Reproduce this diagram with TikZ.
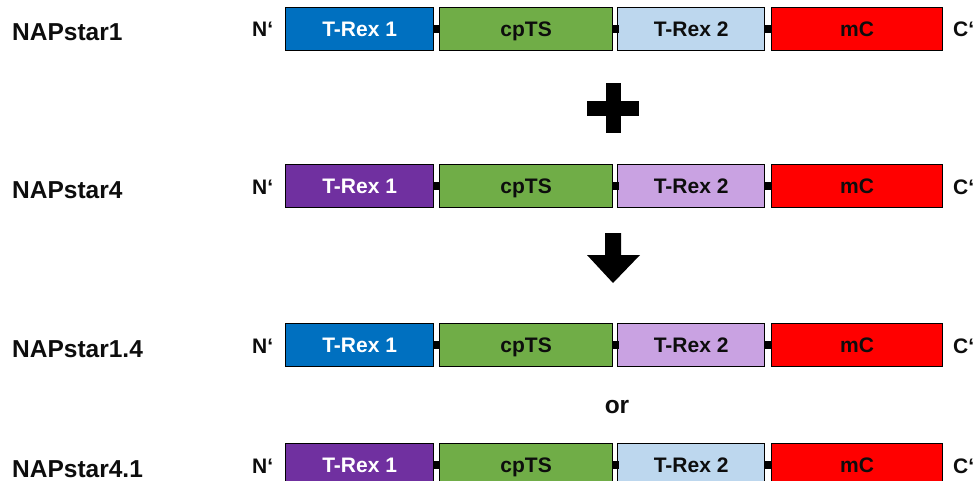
\documentclass[tikz,border=0pt]{standalone}
\usepackage{fontspec}
\setmainfont{Liberation Sans}
\usetikzlibrary{calc}
\definecolor{tblue}{HTML}{0070C0}
\definecolor{tpurple}{HTML}{7030A0}
\definecolor{cpgreen}{HTML}{70AD47}
\definecolor{lblue}{HTML}{BDD7EE}
\definecolor{lpurple}{HTML}{C9A2E2}
\definecolor{mcred}{HTML}{FF0000}
\definecolor{txtdark}{HTML}{0D0D0D}
\newcommand\domainrow[5]{%
  % #1 prefix, #2 top y, #3 label, #4 trex1 colour, #5 trex2 colour
  \node[rowlab] (#1name) at (12,#2+34) {#3};
  \node[endlab] (#1n) at (252,#2+30) {N‘};
  \node[dombox,fill=#4,text=white,minimum width=148pt] (#1a) at (285,#2) {T-Rex 1};
  \node[dombox,fill=cpgreen,minimum width=173pt] (#1b) at (439,#2) {cpTS};
  \node[dombox,fill=#5,minimum width=147pt] (#1c) at (617,#2) {T-Rex 2};
  \node[dombox,fill=mcred,minimum width=171pt] (#1d) at (771,#2) {mC};
  \node[endlab] (#1cc) at (953,#2+30) {C‘};
  \node[linker] (#1l1) at ($(#1a.east)!0.5!(#1b.west)$) {};
  \node[linker] (#1l2) at ($(#1b.east)!0.5!(#1c.west)$) {};
  \node[linker] (#1l3) at ($(#1c.east)!0.5!(#1d.west)$) {};
}
\begin{document}
\begin{tikzpicture}[x=1pt,y=-1pt,
  dombox/.style={draw=black,line width=1.3pt,anchor=north west,minimum height=43pt,
    inner sep=0pt,text height=15pt,text depth=0pt,text=txtdark,
    font=\fontsize{21}{24}\selectfont\bfseries},
  linker/.style={fill=black,inner sep=0pt,minimum width=7pt,minimum height=8pt},
  rowlab/.style={anchor=base west,inner sep=0pt,text=txtdark,font=\fontsize{24.5}{28}\selectfont\bfseries},
  endlab/.style={anchor=base west,inner sep=0pt,text=txtdark,font=\fontsize{21}{24}\selectfont\bfseries},
  symb/.style={fill=black}]
\useasboundingbox (0,0) rectangle (979,481);
\clip (0,0) rectangle (979,481);
\domainrow{r1}{7}{NAPstar1}{tblue}{lblue}
\domainrow{r2}{164}{NAPstar4}{tpurple}{lpurple}
\domainrow{r3}{323}{NAPstar1.4}{tblue}{lpurple}
\domainrow{r4}{443}{NAPstar4.1}{tpurple}{lblue}
% plus sign
\fill[symb] (606,83) rectangle (621,133);
\fill[symb] (587,101) rectangle (639,116);
% down arrow
\fill[symb] (605,233) -- (621,233) -- (621,255) -- (640,255) -- (613,283) -- (587,255) -- (605,255) -- cycle;
% or
\node[rowlab,anchor=base] (ortext) at (617,413) {or};
\end{tikzpicture}
\end{document}
